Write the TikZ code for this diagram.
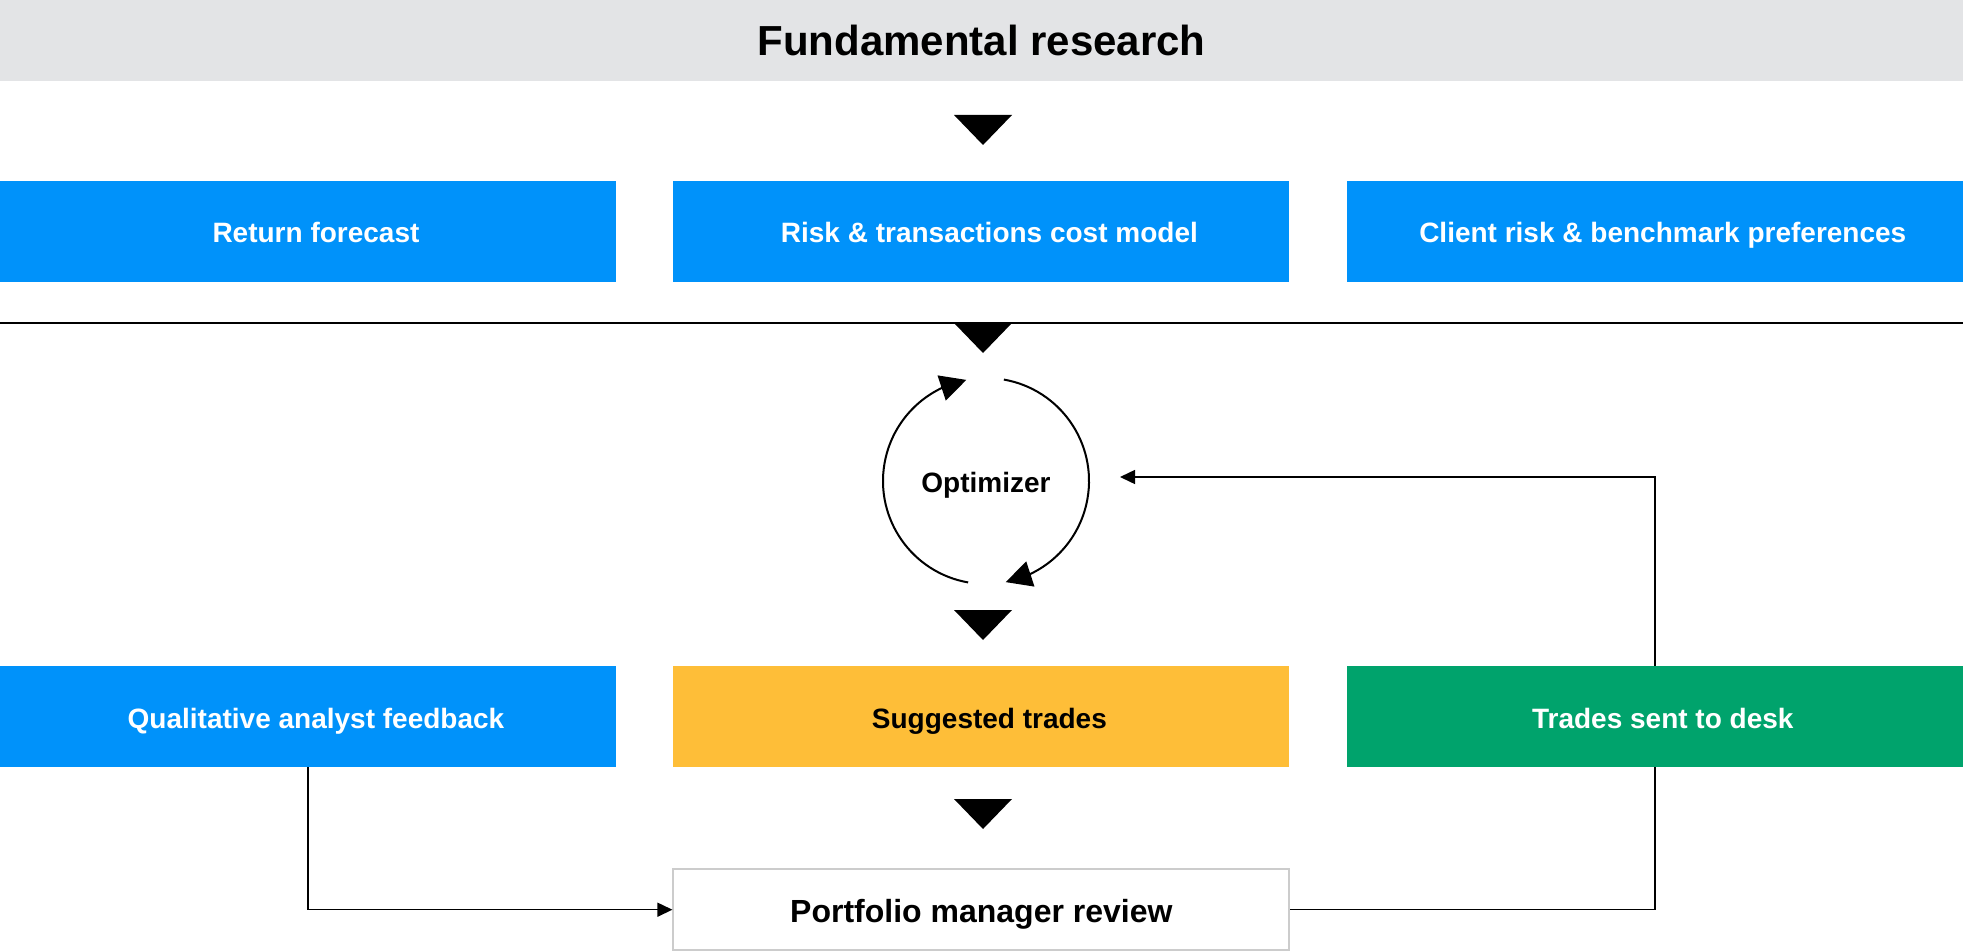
\documentclass[tikz,border=0pt]{standalone}
\usepackage{fontspec}
\setmainfont{Liberation Sans}
\usetikzlibrary{arrows.meta,bending,positioning}

\definecolor{bandgray}{HTML}{E3E4E6}
\definecolor{boxblue}{HTML}{0092FA}
\definecolor{boxyellow}{HTML}{FEBE38}
\definecolor{boxgreen}{HTML}{00A36C}
\definecolor{pmgray}{HTML}{CCCCCC}

\tikzset{
  capfix/.style={text height=#1,text depth=0pt},
  capfix/.default=23pt,
  box/.style={capfix,minimum width=616pt,minimum height=101pt,inner sep=0pt,
    font=\fontsize{28}{34}\selectfont\bfseries,text=white,
    execute at begin node={\hspace*{16pt}}},
  link/.style={line width=1.5pt},
  cycarrow/.style={line width=2pt,-{Triangle[length=26pt,width=26pt]}}
}

\begin{document}
\begin{tikzpicture}[x=1pt,y=1pt]
  \useasboundingbox (0,0) rectangle (1963,-952);

  \node [capfix=31pt,fill=bandgray,minimum width=1963pt,minimum height=81pt,inner sep=0pt,
         font=\fontsize{42}{50}\selectfont\bfseries] (research) at (981.5,-40.5) {Fundamental research};

  % inputs
  \node [box,fill=boxblue] (ret) at (308,-231.5) {Return forecast};
  \node [box,fill=boxblue,right=57pt of ret] (risk) {Risk \& transactions cost model};
  \node [box,fill=boxblue,right=57pt of risk] (client) {Client risk \& benchmark preferences};

  \draw [line width=1.2pt] (0,-323) -- (1963,-323);

  % optimizer loop
  \node [capfix,inner sep=0pt,font=\fontsize{28}{34}\selectfont\bfseries] (opt) at (986,-481) {Optimizer};
  \draw [cycarrow] ([shift={(80:103pt)}]opt.center) arc [start angle=80,end angle=-79,radius=103pt];
  \draw [cycarrow] ([shift={(-100:103pt)}]opt.center) arc [start angle=-100,end angle=-259,radius=103pt];

  % outputs
  \node [box,fill=boxblue] (qual) at (308,-716.5) {Qualitative analyst feedback};
  \node [box,fill=boxyellow,text=black,right=57pt of qual] (sugg) {Suggested trades};
  \node [box,fill=boxgreen,right=57pt of sugg] (desk) {Trades sent to desk};

  \node [capfix=26pt,draw=pmgray,line width=2pt,fill=white,minimum width=616pt,minimum height=81pt,inner sep=0pt,
         font=\fontsize{32}{38}\selectfont\bfseries,below=101pt of sugg] (pm) {Portfolio manager review};

  % flow triangles
  \foreach \ty in {115,323,610,799}
    \fill (954,-\ty) -- (1012,-\ty) -- (983,-\ty-30) -- cycle;

  \coordinate (back) at (1120,-477);
  \draw [link,-{Triangle[length=15pt,width=14pt]}] (qual.south) |- (pm.west);
  \draw [link] (pm.east) -| (desk.south);
  \draw [link,-{Triangle[length=15pt,width=14pt]}] (desk.north) |- (back);
\end{tikzpicture}
\end{document}
